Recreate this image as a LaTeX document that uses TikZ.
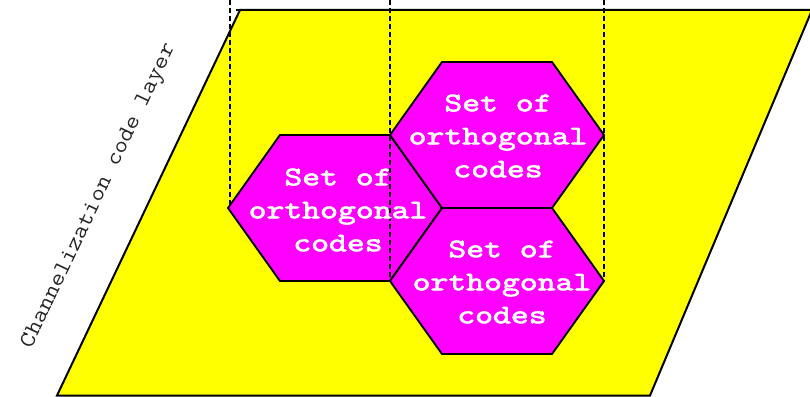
\documentclass[tikz,border=0pt]{standalone}
\usepackage{fontspec}
\newfontfamily\cellfont[FakeBold=2.2]{lmmono10-regular.otf}
\definecolor{layeryellow}{RGB}{255,255,0}
\definecolor{cellmagenta}{RGB}{255,0,255}
\begin{document}
\begin{tikzpicture}[x=1pt,y=-1pt,
  layer/.style={fill=layeryellow,draw=black,line width=2pt,line join=miter},
  cell/.style={fill=cellmagenta,draw=black,line width=1.9pt,line join=miter},
  guide/.style={draw=black,line width=1.2pt,dash pattern=on 5pt off 3pt},
  celltext/.style={text=white,font=\cellfont\fontsize{27}{33}\selectfont,align=center,inner sep=0pt},
  layerlabel/.style={text=black!85,font=\ttfamily\fontsize{23}{26}\selectfont,rotate=64.6,inner sep=0pt}
]
\useasboundingbox (0,0) rectangle (810,396);
% layer
\coordinate (P1) at (240,10);
\coordinate (P2) at (812,10);
\coordinate (P3) at (650,395.5);
\coordinate (P4) at (57,395.5);
\path[layer] (P1) -- (P2) -- (P3) -- (P4) -- cycle;
\draw[black,line width=2pt] (236,10) -- (P1);
% hex cells
\foreach \n/\cx/\cy in {L/335/208, T/497/135, B/497/281}{
  \coordinate (\n w) at (\cx-107,\cy);
  \coordinate (\n e) at (\cx+107,\cy);
  \path[cell] (\n w) -- (\cx-55,\cy-73) -- (\cx+55,\cy-73) -- (\n e) -- (\cx+55,\cy+73) -- (\cx-55,\cy+73) -- cycle;
}
% guides
\coordinate (g1) at (230,0);
\coordinate (g2) at (390,0);
\coordinate (g3) at (604,0);
\draw[guide] (g1) -- (g1 |- Lw);
\draw[guide] (g2) -- (Bw);
\draw[guide] (g3) -- (Be);
% texts
\node[celltext] (tL) at (338,210) {\scalebox{1.26}[1]{Set of}\\\scalebox{1.26}[1]{orthogonal}\\\scalebox{1.26}[1]{codes}};
\node[celltext] (tT) at (498,136) {\scalebox{1.26}[1]{Set of}\\\scalebox{1.26}[1]{orthogonal}\\\scalebox{1.26}[1]{codes}};
\node[celltext] (tB) at (502,282) {\scalebox{1.26}[1]{Set of}\\\scalebox{1.26}[1]{orthogonal}\\\scalebox{1.26}[1]{codes}};
\node[layerlabel] (lab) at (99,196) {\scalebox{1.13}[1]{Channelization code layer}};
\end{tikzpicture}
\end{document}
